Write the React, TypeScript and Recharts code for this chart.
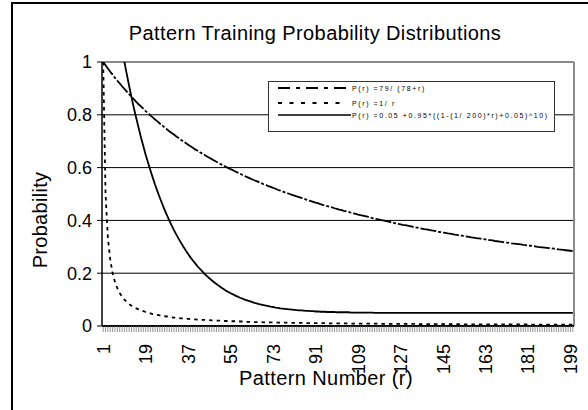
import React from 'react';
import { LineChart, Line, XAxis, YAxis, CartesianGrid, ReferenceLine } from 'recharts';

const FONT = "'Liberation Sans', Arial, sans-serif";

// pattern number r (categories)
const PATTERN_NUMBERS = Array.from({ length: 200 }, (_, i) => i + 1);
const X_LABELS = [1, 19, 37, 55, 73, 91, 109, 127, 145, 163, 181, 199];
const Y_TICKS = [0, 0.2, 0.4, 0.6, 0.8, 1];

const SERIES_NAMES = [
  'P(r) =79/ (78+r)',
  'P(r) =1/ r',
  'P(r) =0.05 +0.95*((1-(1/ 200)*r)+0.05)^10)',
];

// P(r) = 79/(78+r)
const HYPERBOLIC = [
  1.000, 0.988, 0.975, 0.963, 0.952, 0.940, 0.929, 0.919, 0.908, 0.898,
  0.888, 0.878, 0.868, 0.859, 0.849, 0.840, 0.832, 0.823, 0.814, 0.806,
  0.798, 0.790, 0.782, 0.775, 0.767, 0.760, 0.752, 0.745, 0.738, 0.731,
  0.725, 0.718, 0.712, 0.705, 0.699, 0.693, 0.687, 0.681, 0.675, 0.669,
  0.664, 0.658, 0.653, 0.648, 0.642, 0.637, 0.632, 0.627, 0.622, 0.617,
  0.612, 0.608, 0.603, 0.598, 0.594, 0.590, 0.585, 0.581, 0.577, 0.572,
  0.568, 0.564, 0.560, 0.556, 0.552, 0.549, 0.545, 0.541, 0.537, 0.534,
  0.530, 0.527, 0.523, 0.520, 0.516, 0.513, 0.510, 0.506, 0.503, 0.500,
  0.497, 0.494, 0.491, 0.488, 0.485, 0.482, 0.479, 0.476, 0.473, 0.470,
  0.467, 0.465, 0.462, 0.459, 0.457, 0.454, 0.451, 0.449, 0.446, 0.444,
  0.441, 0.439, 0.436, 0.434, 0.432, 0.429, 0.427, 0.425, 0.422, 0.420,
  0.418, 0.416, 0.414, 0.411, 0.409, 0.407, 0.405, 0.403, 0.401, 0.399,
  0.397, 0.395, 0.393, 0.391, 0.389, 0.387, 0.385, 0.383, 0.382, 0.380,
  0.378, 0.376, 0.374, 0.373, 0.371, 0.369, 0.367, 0.366, 0.364, 0.362,
  0.361, 0.359, 0.357, 0.356, 0.354, 0.353, 0.351, 0.350, 0.348, 0.346,
  0.345, 0.343, 0.342, 0.341, 0.339, 0.338, 0.336, 0.335, 0.333, 0.332,
  0.331, 0.329, 0.328, 0.326, 0.325, 0.324, 0.322, 0.321, 0.320, 0.319,
  0.317, 0.316, 0.315, 0.313, 0.312, 0.311, 0.310, 0.309, 0.307, 0.306,
  0.305, 0.304, 0.303, 0.302, 0.300, 0.299, 0.298, 0.297, 0.296, 0.295,
  0.294, 0.293, 0.292, 0.290, 0.289, 0.288, 0.287, 0.286, 0.285, 0.284,
];

// P(r) = 1/r
const INVERSE = [
  1.000, 0.500, 0.333, 0.250, 0.200, 0.167, 0.143, 0.125, 0.111, 0.100,
  0.091, 0.083, 0.077, 0.071, 0.067, 0.063, 0.059, 0.056, 0.053, 0.050,
  0.048, 0.045, 0.043, 0.042, 0.040, 0.038, 0.037, 0.036, 0.034, 0.033,
  0.032, 0.031, 0.030, 0.029, 0.029, 0.028, 0.027, 0.026, 0.026, 0.025,
  0.024, 0.024, 0.023, 0.023, 0.022, 0.022, 0.021, 0.021, 0.020, 0.020,
  0.020, 0.019, 0.019, 0.019, 0.018, 0.018, 0.018, 0.017, 0.017, 0.017,
  0.016, 0.016, 0.016, 0.016, 0.015, 0.015, 0.015, 0.015, 0.014, 0.014,
  0.014, 0.014, 0.014, 0.014, 0.013, 0.013, 0.013, 0.013, 0.013, 0.013,
  0.012, 0.012, 0.012, 0.012, 0.012, 0.012, 0.011, 0.011, 0.011, 0.011,
  0.011, 0.011, 0.011, 0.011, 0.011, 0.010, 0.010, 0.010, 0.010, 0.010,
  0.010, 0.010, 0.010, 0.010, 0.010, 0.009, 0.009, 0.009, 0.009, 0.009,
  0.009, 0.009, 0.009, 0.009, 0.009, 0.009, 0.009, 0.008, 0.008, 0.008,
  0.008, 0.008, 0.008, 0.008, 0.008, 0.008, 0.008, 0.008, 0.008, 0.008,
  0.008, 0.008, 0.008, 0.007, 0.007, 0.007, 0.007, 0.007, 0.007, 0.007,
  0.007, 0.007, 0.007, 0.007, 0.007, 0.007, 0.007, 0.007, 0.007, 0.007,
  0.007, 0.007, 0.007, 0.006, 0.006, 0.006, 0.006, 0.006, 0.006, 0.006,
  0.006, 0.006, 0.006, 0.006, 0.006, 0.006, 0.006, 0.006, 0.006, 0.006,
  0.006, 0.006, 0.006, 0.006, 0.006, 0.006, 0.006, 0.006, 0.006, 0.006,
  0.006, 0.005, 0.005, 0.005, 0.005, 0.005, 0.005, 0.005, 0.005, 0.005,
  0.005, 0.005, 0.005, 0.005, 0.005, 0.005, 0.005, 0.005, 0.005, 0.005,
];

// P(r) = 0.05 + 0.95*((1-(1/200)*r)+0.05)^10  (runs off the top for small r)
const POWER = [
  1.525, 1.456, 1.390, 1.327, 1.266, 1.208, 1.152, 1.099, 1.049, 1.000,
  0.954, 0.909, 0.867, 0.826, 0.788, 0.751, 0.715, 0.682, 0.649, 0.619,
  0.590, 0.562, 0.535, 0.510, 0.486, 0.463, 0.441, 0.420, 0.400, 0.381,
  0.363, 0.346, 0.330, 0.315, 0.300, 0.286, 0.273, 0.260, 0.248, 0.237,
  0.226, 0.216, 0.207, 0.197, 0.189, 0.181, 0.173, 0.166, 0.159, 0.152,
  0.146, 0.140, 0.134, 0.129, 0.124, 0.120, 0.115, 0.111, 0.107, 0.104,
  0.100, 0.097, 0.094, 0.091, 0.088, 0.086, 0.083, 0.081, 0.079, 0.077,
  0.075, 0.073, 0.072, 0.070, 0.069, 0.067, 0.066, 0.065, 0.064, 0.063,
  0.062, 0.061, 0.060, 0.059, 0.059, 0.058, 0.057, 0.057, 0.056, 0.056,
  0.055, 0.055, 0.054, 0.054, 0.054, 0.053, 0.053, 0.053, 0.053, 0.052,
  0.052, 0.052, 0.052, 0.052, 0.052, 0.051, 0.051, 0.051, 0.051, 0.051,
  0.051, 0.051, 0.051, 0.051, 0.051, 0.050, 0.050, 0.050, 0.050, 0.050,
  0.050, 0.050, 0.050, 0.050, 0.050, 0.050, 0.050, 0.050, 0.050, 0.050,
  0.050, 0.050, 0.050, 0.050, 0.050, 0.050, 0.050, 0.050, 0.050, 0.050,
  0.050, 0.050, 0.050, 0.050, 0.050, 0.050, 0.050, 0.050, 0.050, 0.050,
  0.050, 0.050, 0.050, 0.050, 0.050, 0.050, 0.050, 0.050, 0.050, 0.050,
  0.050, 0.050, 0.050, 0.050, 0.050, 0.050, 0.050, 0.050, 0.050, 0.050,
  0.050, 0.050, 0.050, 0.050, 0.050, 0.050, 0.050, 0.050, 0.050, 0.050,
  0.050, 0.050, 0.050, 0.050, 0.050, 0.050, 0.050, 0.050, 0.050, 0.050,
  0.050, 0.050, 0.050, 0.050, 0.050, 0.050, 0.050, 0.050, 0.050, 0.050,
];

const DASH_A = '16 2 3 2';
const DASH_B = '3.5 4';

const data = PATTERN_NUMBERS.map((r, i) => ({
  r,
  a: HYPERBOLIC[i],
  b: INVERSE[i],
  c: POWER[i],
}));

const renderXTick = (props: any) => {
  const { x, y, payload } = props;
  if (!X_LABELS.includes(payload.value)) return <g />;
  return (
    <g transform={`translate(${x},${y})`}>
      <text
        x={-10}
        y={0}
        dy="0.36em"
        transform="rotate(-90)"
        textAnchor="end"
        fontSize={18}
        fontFamily={FONT}
        fill="#000"
      >
        {payload.value}
      </text>
    </g>
  );
};

const legendRows = [
  { y: 88, dash: '12 6 4 6', width: 2, end: 349 },
  { y: 103, dash: '4 7.5', width: 2, end: 344 },
  { y: 115, dash: undefined, width: 1.6, end: 351 },
];

export default function App() {
  return (
    <div style={{ position: 'absolute', left: 0, top: 0, width: 588, height: 410, overflow: 'hidden', background: '#fff' }}>
      {/* chart-area frame, cut off at right and bottom */}
      <div style={{ position: 'absolute', left: 11, top: 2, width: 600, height: 440, border: '2px solid #000' }} />
      <div style={{ position: 'absolute', left: 0, top: 0 }}>
        <LineChart width={588} height={410} data={data} margin={{ top: 62, right: 14, bottom: 0, left: 0 }}>
          <CartesianGrid horizontal vertical={false} stroke="#000" strokeWidth={1} />
          <XAxis
            type="number"
            dataKey="r"
            domain={[0.5, 200.5]}
            ticks={PATTERN_NUMBERS}
            interval={0}
            allowDataOverflow
            height={84}
            tickSize={6}
            tickLine={{ stroke: '#666', strokeWidth: 0.7 }}
            axisLine={{ stroke: '#000', strokeWidth: 2 }}
            tick={renderXTick}
          />
          <YAxis
            type="number"
            domain={[0, 1]}
            ticks={Y_TICKS}
            allowDataOverflow
            width={102}
            tickSize={5}
            tickMargin={5}
            tickLine={{ stroke: '#000' }}
            axisLine={{ stroke: '#000', strokeWidth: 1.5 }}
            tickFormatter={(v: number) => String(v)}
            tick={{ fontSize: 18, fill: '#000', fontFamily: FONT }}
          />
          <ReferenceLine y={1} stroke="#8a8a8a" strokeWidth={2} />
          <ReferenceLine x={200.5} stroke="#8a8a8a" strokeWidth={2} />
          <Line type="linear" dataKey="c" stroke="#000" strokeWidth={1.8} dot={false} isAnimationActive={false} />
          <Line type="linear" dataKey="a" stroke="#000" strokeWidth={1.8} strokeDasharray={DASH_A} dot={false} isAnimationActive={false} />
          <Line type="linear" dataKey="b" stroke="#000" strokeWidth={1.8} strokeDasharray={DASH_B} dot={false} isAnimationActive={false} />
        </LineChart>
      </div>
      <svg width={588} height={410} style={{ position: 'absolute', left: 0, top: 0, pointerEvents: 'none' }} fontFamily={FONT}>
        <text x={315} y={39.5} textAnchor="middle" fontSize={20} letterSpacing={0.4} fill="#000">
          Pattern Training Probability Distributions
        </text>
        <text transform="translate(47,220) rotate(-90)" textAnchor="middle" fontSize={20} letterSpacing={0.3} fill="#000">
          Probability
        </text>
        <text x={326} y={385} textAnchor="middle" fontSize={20} letterSpacing={0.4} fill="#000">
          Pattern Number (r)
        </text>
        <rect x={268.5} y={81.5} width={286} height={50} fill="#fff" stroke="#333" strokeWidth={1} />
        {legendRows.map((row, i) => (
          <g key={i}>
            <line x1={278} x2={row.end} y1={row.y} y2={row.y} stroke="#000" strokeWidth={row.width} strokeDasharray={row.dash} />
            <text x={352} y={row.y + 2.5} fontSize={7} letterSpacing={1.6} fill="#000">
              {SERIES_NAMES[i]}
            </text>
          </g>
        ))}
      </svg>
    </div>
  );
}
